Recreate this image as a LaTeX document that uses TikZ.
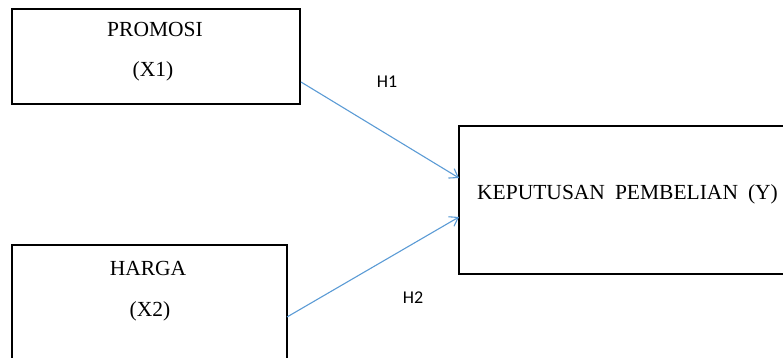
\documentclass[tikz,border=0pt]{standalone}
\usepackage{fontspec}
\setmainfont{Liberation Serif}
\newfontfamily\calib{Carlito}
\usetikzlibrary{arrows.meta}
\definecolor{arrowblue}{HTML}{5B9BD5}
\begin{document}
\begin{tikzpicture}[x=1pt,y=-1pt,
  varbox/.style={draw=black,line width=1.5pt},
  boxtext/.style={font=\fontsize{21.5}{24}\selectfont,inner sep=0pt,anchor=base},
  hyp/.style={font=\calib\fontsize{18}{20}\selectfont,inner sep=0pt,anchor=base},
  link/.style={draw=arrowblue,line width=1.1pt,-{Straight Barb[length=8pt,width=11pt,line width=1.1pt]}}]
\useasboundingbox (0,0) rectangle (783,358);
% boxes
\draw[varbox] (12,9) rectangle (300,104);
\coordinate (x1out) at (301,82);
\draw[varbox] (12,245) rectangle (287,370);
\coordinate (x2out) at (287,317);
\draw[varbox] (459,126) rectangle (790,274);
\coordinate (yin1) at (459,178);
\coordinate (yin2) at (459,217);
% texts
\node[boxtext] (promosi) at (155,37) {PROMOSI};
\node[boxtext] (x1) at (153,77) {(X1)};
\node[boxtext] (harga) at (148,275) {HARGA};
\node[boxtext] (x2) at (150,316) {(X2)};
\node[boxtext,anchor=base west] (kep) at (477,199) {KEPUTUSAN\hspace{10pt}PEMBELIAN\hspace{10pt}(Y)};
\node[hyp] (h1) at (387,88) {H1};
\node[hyp] (h2) at (413,303) {H2};
% arrows
\draw[link] (x1out) -- (yin1);
\draw[link] (x2out) -- (yin2);
\end{tikzpicture}
\end{document}
